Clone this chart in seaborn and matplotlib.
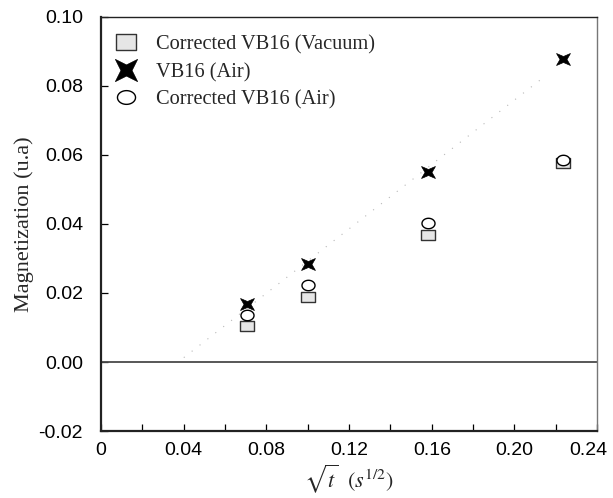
import numpy as np
import pandas as pd
import matplotlib
matplotlib.use("Agg")
import matplotlib.pyplot as plt
from matplotlib.path import Path
from matplotlib.lines import Line2D
from matplotlib.transforms import ScaledTranslation
import seaborn as sns

# sqrt(t) positions (s^1/2)
sqrt_t = [0.0707, 0.100, 0.158, 0.2236]

# magnetization (u.a) for each series
vb16_air = [0.0167, 0.0285, 0.0552, 0.0877]
corrected_air = [0.0137, 0.0224, 0.0403, 0.0586]
corrected_vacuum = [0.0103, 0.0188, 0.0368, 0.0576]

series_names = ["Corrected VB16 (Vacuum)", "VB16 (Air)", "Corrected VB16 (Air)"]

df = pd.DataFrame({
    "x": sqrt_t * 3,
    "y": corrected_vacuum + vb16_air + corrected_air,
    "series": sum([[n] * len(sqrt_t) for n in series_names], []),
})

sns.set_theme(style="ticks")
plt.rcParams["font.family"] = ["Liberation Sans", "DejaVu Sans"]
plt.rcParams["mathtext.fontset"] = "stix"


def ellipse_path(w, h, n=64):
    a = np.linspace(0, 2 * np.pi, n)
    verts = np.column_stack([w * np.cos(a), h * np.sin(a)])
    verts[-1] = verts[0]
    codes = [Path.MOVETO] + [Path.LINETO] * (n - 2) + [Path.CLOSEPOLY]
    return Path(verts, codes)


def rect_path(w, h):
    verts = [(-w, -h), (w, -h), (w, h), (-w, h), (-w, -h)]
    codes = [Path.MOVETO, Path.LINETO, Path.LINETO, Path.LINETO, Path.CLOSEPOLY]
    return Path(verts, codes)


def star4_path(w, h, k=0.5):
    verts = [(w, h), (0, k * h), (-w, h), (-k * w, 0), (-w, -h),
             (0, -k * h), (w, -h), (k * w, 0), (w, h)]
    codes = [Path.MOVETO] + [Path.LINETO] * 7 + [Path.CLOSEPOLY]
    return Path(verts, codes)


square_m = rect_path(1.0, 0.82)
star_m = star4_path(1.0, 0.86)
circle_m = ellipse_path(1.0, 0.80)

fig = plt.figure(figsize=(6.13, 4.98), dpi=100)
ax = fig.add_axes([0.165, 0.1345, 0.809, 0.8315])

# faint linear trend through the uncorrected air data
coef = np.polyfit(sqrt_t, vb16_air, 1)
fit_x = np.array([0.04, 0.215])
ax.plot(fit_x, np.polyval(coef, fit_x), color="#b8b8b8", lw=0.8,
        ls=(0, (1, 8)), zorder=1)

ax.axhline(0, color="#4a4a4a", lw=1.3, zorder=1)

sub = df[df.series == series_names[0]]
sns.scatterplot(data=sub, x="x", y="y", ax=ax, marker=square_m, s=88,
                facecolor="#e6e6e6", edgecolor="#333333", linewidth=1.0,
                legend=False, zorder=3)
sub = df[df.series == series_names[1]]
sns.scatterplot(data=sub, x="x", y="y", ax=ax, marker=star_m, s=100,
                facecolor="black", edgecolor="black", linewidth=0.5,
                legend=False, zorder=4)
sub = df[df.series == series_names[2]]
sns.scatterplot(data=sub, x="x", y="y", ax=ax, marker=circle_m, s=88,
                facecolor="white", edgecolor="black", linewidth=1.0,
                legend=False, zorder=5)

ax.set_xlim(0, 0.24)
ax.set_ylim(-0.02, 0.10)
ax.set_xticks(np.arange(0, 0.241, 0.04))
ax.set_xticks(np.arange(0.02, 0.24, 0.04), minor=True)
ax.set_xticklabels(["0", "0.04", "0.08", "0.12", "0.16", "0.20", "0.24"])
ax.set_yticks(np.arange(-0.02, 0.101, 0.02))
ax.set_yticklabels(["-0.02", "0.00", "0.02", "0.04", "0.06", "0.08", "0.10"])
ax.tick_params(axis="both", which="both", direction="in", length=5,
               width=0.9, labelsize=14, colors="black")
ax.tick_params(axis="y", pad=13)
ax.tick_params(axis="x", pad=8)
# keep the last x label inside the canvas
last = ax.get_xticklabels()[-1]
last.set_transform(last.get_transform() + ScaledTranslation(-6 / 72, 0, fig.dpi_scale_trans))

for s in ax.spines.values():
    s.set_color("#222222")
    s.set_linewidth(1.0)
ax.spines["left"].set_linewidth(1.6)
ax.spines["bottom"].set_linewidth(1.6)
ax.spines["right"].set_color("#777777")

ax.set_xlabel(r"$\sqrt{t}\ \ (s^{1/2})$", fontsize=16, labelpad=2)
ax.set_ylabel("Magnetization (u.a)", family="Liberation Serif",
              fontsize=16, labelpad=3)

handles = [
    Line2D([], [], ls="none", marker=rect_path(1.0, 0.74), markersize=15,
           markerfacecolor="#e6e6e6", markeredgecolor="#333333", markeredgewidth=1.0),
    Line2D([], [], ls="none", marker=star4_path(1.0, 1.0), markersize=16,
           markerfacecolor="black", markeredgecolor="black", markeredgewidth=0.5),
    Line2D([], [], ls="none", marker=ellipse_path(1.0, 0.76), markersize=13,
           markerfacecolor="white", markeredgecolor="black", markeredgewidth=1.0),
]
ax.legend(handles, series_names, loc="upper left", bbox_to_anchor=(-0.012, 1.0),
          frameon=False, prop={"family": "Liberation Serif", "size": 14.7},
          handlelength=1.2, handletextpad=0.9, labelspacing=0.4,
          borderaxespad=0.5)

fig.savefig("out.png", dpi=100)
